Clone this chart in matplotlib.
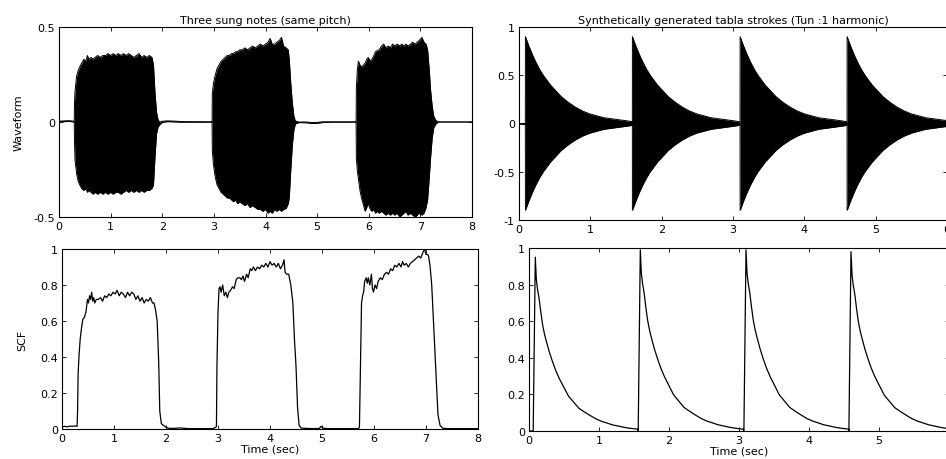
import numpy as np
import matplotlib
matplotlib.use("Agg")
import matplotlib.pyplot as plt

plt.rcParams['font.family'] = ['DejaVu Sans']
FS = 8

# ---------------- Data ----------------
# Top-left: envelope of three sung notes (time, upper, lower)
sung_t = [0.00, 0.10, 0.20, 0.295, 0.30, 0.31, 0.34, 0.37, 0.40, 0.44, 0.48, 0.52, 0.55, 0.58, 0.62,
          0.66, 0.70, 0.75, 0.80, 0.85, 0.90, 0.95, 1.00, 1.05, 1.10, 1.15, 1.20, 1.25, 1.30, 1.35,
          1.40, 1.45, 1.50, 1.55, 1.60, 1.65, 1.70, 1.75, 1.80, 1.83, 1.86, 1.89, 1.92, 1.95, 2.00,
          2.10, 2.20, 2.40, 2.96,
          2.965, 2.97, 2.99, 3.02, 3.06, 3.10, 3.14, 3.18, 3.22, 3.26, 3.30, 3.34, 3.38, 3.42, 3.46,
          3.50, 3.55, 3.60, 3.65, 3.70, 3.75, 3.80, 3.85, 3.90, 3.95, 4.00, 4.05, 4.09, 4.13, 4.18,
          4.22, 4.27, 4.31, 4.35, 4.40, 4.44, 4.46, 4.49, 4.52, 4.55, 4.58, 4.65, 4.80, 4.90, 5.00,
          5.10, 5.30, 5.755,
          5.76, 5.78, 5.80, 5.83, 5.86, 5.90, 5.93, 5.96, 5.99, 6.03, 6.06, 6.10, 6.13, 6.16, 6.20,
          6.25, 6.29, 6.33, 6.38, 6.42, 6.46, 6.50, 6.55, 6.60, 6.64, 6.68, 6.72, 6.76, 6.81, 6.85,
          6.90, 6.94, 6.98, 7.03, 7.07, 7.11, 7.14, 7.17, 7.20, 7.23, 7.26, 7.30, 7.35, 8.00]
sung_upper = [0.004, 0.006, 0.007, 0.004, 0.10, 0.16, 0.24, 0.27, 0.29, 0.31, 0.33, 0.32, 0.35, 0.33, 0.34,
              0.33, 0.34, 0.35, 0.34, 0.35, 0.35, 0.36, 0.35, 0.36, 0.35, 0.36, 0.35, 0.36, 0.35, 0.36,
              0.35, 0.34, 0.35, 0.36, 0.34, 0.35, 0.34, 0.35, 0.34, 0.30, 0.15, 0.05, 0.01, 0.0, 0.004,
              0.006, 0.005, 0.002, 0.001,
              0.0, 0.15, 0.20, 0.24, 0.28, 0.30, 0.32, 0.33, 0.34, 0.35, 0.35, 0.36, 0.36, 0.37, 0.37,
              0.38, 0.38, 0.39, 0.38, 0.39, 0.40, 0.39, 0.40, 0.41, 0.40, 0.41, 0.42, 0.44, 0.41, 0.41,
              0.42, 0.43, 0.445, 0.40, 0.39, 0.38, 0.33, 0.20, 0.10, 0.03, 0.005, 0.0, 0.0, -0.003, -0.002,
              0.001, 0.001, 0.001,
              0.18, 0.28, 0.32, 0.30, 0.29, 0.30, 0.31, 0.33, 0.34, 0.32, 0.33, 0.35, 0.37, 0.375, 0.38,
              0.40, 0.41, 0.39, 0.40, 0.39, 0.41, 0.40, 0.41, 0.40, 0.41, 0.40, 0.41, 0.40, 0.41, 0.42,
              0.41, 0.42, 0.43, 0.445, 0.42, 0.41, 0.38, 0.28, 0.16, 0.08, 0.03, 0.008, 0.0, 0.0]
sung_lower = [0.000, 0.002, 0.003, 0.000, -0.10, -0.20, -0.27, -0.31, -0.33, -0.35, -0.36, -0.35, -0.37, -0.36, -0.37,
              -0.38, -0.37, -0.38, -0.37, -0.38, -0.37, -0.38, -0.37, -0.38, -0.37, -0.37, -0.38, -0.37, -0.36, -0.37,
              -0.36, -0.37, -0.36, -0.37, -0.36, -0.37, -0.36, -0.36, -0.35, -0.33, -0.18, -0.06, -0.025, -0.015, -0.002,
              0.002, 0.001, -0.001, -0.001,
              -0.003, -0.15, -0.22, -0.28, -0.33, -0.35, -0.37, -0.38, -0.39, -0.40, -0.40, -0.41, -0.42, -0.41, -0.43,
              -0.42, -0.43, -0.44, -0.43, -0.45, -0.44, -0.45, -0.46, -0.46, -0.47, -0.46, -0.48, -0.47, -0.48, -0.46,
              -0.47, -0.46, -0.47, -0.46, -0.455, -0.43, -0.40, -0.25, -0.12, -0.04, -0.01, -0.003, -0.004, -0.008, -0.007,
              -0.003, -0.001, -0.001,
              -0.19, -0.26, -0.30, -0.36, -0.40, -0.44, -0.47, -0.45, -0.43, -0.46, -0.47, -0.46, -0.48, -0.47, -0.48,
              -0.47, -0.48, -0.49, -0.48, -0.49, -0.48, -0.49, -0.48, -0.50, -0.49, -0.48, -0.47, -0.49, -0.48, -0.49,
              -0.50, -0.49, -0.48, -0.49, -0.48, -0.45, -0.41, -0.30, -0.18, -0.08, -0.03, -0.01, 0.0, 0.0]

# Top-right: tabla strokes, decaying envelope after each onset
stroke_onsets = [0.09, 1.59, 3.10, 4.60]
tabla_env_offsets = [0.0, 0.05, 0.1, 0.15, 0.2, 0.25, 0.3, 0.35, 0.4, 0.45, 0.5, 0.6, 0.7, 0.8, 0.9,
                     1.0, 1.1, 1.2, 1.3, 1.4, 1.49]
tabla_env_values = [0.90, 0.80, 0.71, 0.63, 0.56, 0.50, 0.45, 0.40, 0.36, 0.32, 0.28, 0.22, 0.17, 0.13, 0.10,
                    0.08, 0.06, 0.05, 0.04, 0.03, 0.02]

# Bottom-left: SCF of sung notes
scf_sung_t = [0.00, 0.05, 0.10, 0.15, 0.20, 0.25, 0.29, 0.30, 0.31, 0.33, 0.35, 0.37, 0.40, 0.43, 0.46,
              0.49, 0.51, 0.53, 0.55, 0.57, 0.59, 0.61, 0.63, 0.66, 0.70, 0.74, 0.78, 0.82, 0.86, 0.90,
              0.94, 0.98, 1.02, 1.06, 1.10, 1.14, 1.18, 1.22, 1.26, 1.30, 1.34, 1.38, 1.42, 1.46, 1.50,
              1.54, 1.58, 1.62, 1.66, 1.70, 1.74, 1.77, 1.80, 1.83, 1.86, 1.88, 1.91, 1.95, 2.00, 2.05,
              2.15, 2.25, 2.35, 2.45, 2.60, 2.75, 2.90, 2.96, 2.97, 2.98, 3.00, 3.02, 3.04, 3.06, 3.09,
              3.12, 3.15, 3.18, 3.21, 3.24, 3.28, 3.31, 3.35, 3.38, 3.42, 3.45, 3.48, 3.51, 3.55, 3.58,
              3.62, 3.65, 3.68, 3.72, 3.76, 3.80, 3.84, 3.88, 3.92, 3.96, 4.00, 4.04, 4.08, 4.12, 4.16,
              4.20, 4.24, 4.27, 4.29, 4.32, 4.36, 4.40, 4.44, 4.47, 4.50, 4.53, 4.56, 4.60, 4.80, 4.95,
              4.98, 5.02, 5.10, 5.40, 5.70, 5.72, 5.74, 5.76, 5.78, 5.80, 5.82, 5.85, 5.87, 5.89, 5.92,
              5.95, 5.97, 5.99, 6.02, 6.05, 6.08, 6.12, 6.16, 6.20, 6.24, 6.28, 6.32, 6.36, 6.40, 6.44,
              6.48, 6.52, 6.55, 6.58, 6.62, 6.66, 6.70, 6.74, 6.78, 6.82, 6.86, 6.90, 6.94, 6.97, 7.00,
              7.03, 7.05, 7.08, 7.11, 7.14, 7.17, 7.20, 7.23, 7.27, 7.32, 7.40, 8.00]
scf_sung_v = [0.010, 0.015, 0.012, 0.016, 0.015, 0.017, 0.015, 0.10, 0.31, 0.42, 0.50, 0.55, 0.61, 0.62, 0.65,
              0.72, 0.70, 0.74, 0.72, 0.76, 0.71, 0.73, 0.70, 0.72, 0.72, 0.73, 0.71, 0.74, 0.73, 0.75,
              0.74, 0.76, 0.75, 0.77, 0.74, 0.76, 0.75, 0.73, 0.76, 0.74, 0.76, 0.75, 0.72, 0.74, 0.71,
              0.73, 0.70, 0.72, 0.71, 0.73, 0.70, 0.70, 0.66, 0.60, 0.37, 0.10, 0.03, 0.02, 0.01, 0.004,
              0.003, 0.006, 0.004, 0.002, 0.002, 0.002, 0.002, 0.010, 0.015, 0.35, 0.65, 0.78, 0.79, 0.76, 0.80,
              0.74, 0.76, 0.73, 0.76, 0.77, 0.79, 0.78, 0.83, 0.84, 0.84, 0.83, 0.85, 0.82, 0.86, 0.84,
              0.89, 0.88, 0.90, 0.88, 0.90, 0.89, 0.91, 0.90, 0.92, 0.90, 0.93, 0.91, 0.92, 0.90, 0.92,
              0.89, 0.91, 0.94, 0.87, 0.86, 0.86, 0.80, 0.70, 0.50, 0.35, 0.12, 0.02, 0.005, 0.002, 0.003,
              0.015, 0.005, 0.002, 0.002, 0.002, 0.01, 0.35, 0.70, 0.74, 0.76, 0.82, 0.84, 0.81, 0.84, 0.80,
              0.86, 0.78, 0.76, 0.80, 0.78, 0.82, 0.84, 0.83, 0.86, 0.87, 0.86, 0.89, 0.88, 0.91, 0.90,
              0.92, 0.90, 0.93, 0.91, 0.92, 0.90, 0.92, 0.93, 0.94, 0.95, 0.96, 0.95, 0.98, 1.00, 0.97,
              0.97, 0.96, 0.90, 0.80, 0.62, 0.45, 0.25, 0.08, 0.02, 0.005, 0.002, 0.002]

# Bottom-right: SCF of tabla strokes (rise then decay after each onset)
scf_tabla_peaks = [0.95, 0.99, 0.99, 0.98]
scf_decay_offsets = [-0.03, 0.0, 0.015, 0.03, 0.055, 0.08, 0.105, 0.13, 0.155, 0.20, 0.245, 0.29, 0.345,
                     0.41, 0.475, 0.55, 0.625, 0.70, 0.78, 0.865, 0.95, 1.03, 1.105, 1.20, 1.27, 1.345,
                     1.41, 1.47]
scf_decay_values = [0.00, 1.00, 0.87, 0.82, 0.76, 0.68, 0.61, 0.56, 0.52, 0.455, 0.40, 0.35, 0.30,
                    0.25, 0.20, 0.165, 0.13, 0.11, 0.09, 0.07, 0.055, 0.045, 0.035, 0.027, 0.021, 0.016,
                    0.013, 0.01]

# ---------------- Figure ----------------
W, H = 946, 460
fig = plt.figure(figsize=(W / 100, H / 100), dpi=100)


def px_axes(x0, y0, x1, y1):
    return fig.add_axes([x0 / W, 1 - y1 / H, (x1 - x0) / W, (y1 - y0) / H])


def style(ax):
    ax.tick_params(direction='in', length=3, width=0.6, top=True, right=True,
                   labelsize=FS, pad=3)
    for s in ax.spines.values():
        s.set_linewidth(0.8)


# Top-left
ax1 = px_axes(59, 28, 472, 218)
t = np.array(sung_t)
ax1.fill_between(t, sung_lower, sung_upper, color='black', linewidth=0)
ax1.plot(t, sung_upper, color='black', lw=0.7)
ax1.plot(t, sung_lower, color='black', lw=0.7)
ax1.set_xlim(0, 8)
ax1.set_ylim(-0.5, 0.5)
ax1.set_xticks(range(0, 9))
ax1.set_yticks([-0.5, 0, 0.5])
ax1.set_yticklabels(['-0.5', '0', '0.5'])
ax1.set_title('Three sung notes (same pitch)', fontsize=FS, pad=3)
ax1.set_ylabel('Waveform', fontsize=FS, labelpad=7)
style(ax1)

# Top-right
ax2 = px_axes(519, 28, 947, 221)
seg_t = []
seg_up = []
seg_lo = []
seg_t.append(0.0); seg_up.append(0.0); seg_lo.append(0.0)
for i, on in enumerate(stroke_onsets):
    seg_t.append(on - 0.001); seg_up.append(0.0); seg_lo.append(0.0)
    for off, val in zip(tabla_env_offsets, tabla_env_values):
        seg_t.append(on + off); seg_up.append(val); seg_lo.append(-val)
seg_t.append(6.0); seg_up.append(tabla_env_values[-1]); seg_lo.append(-tabla_env_values[-1])
seg_t = np.array(seg_t)
ax2.fill_between(seg_t, seg_lo, seg_up, color='black', linewidth=0)
ax2.plot(seg_t, seg_up, color='black', lw=0.7)
ax2.plot(seg_t, seg_lo, color='black', lw=0.7)
ax2.axhline(0, color='black', lw=0.8, xmin=0.01)
ax2.set_xlim(0, 6)
ax2.set_ylim(-1, 1)
ax2.set_xticks(range(0, 7))
ax2.set_yticks([-1, -0.5, 0, 0.5, 1])
ax2.set_yticklabels(['-1', '-0.5', '0', '0.5', '1'])
ax2.set_title('Synthetically generated tabla strokes (Tun :1 harmonic)', fontsize=FS, pad=3)
style(ax2)

# Bottom-left
ax3 = px_axes(62, 250, 478, 430)
ax3.plot(scf_sung_t, scf_sung_v, color='black', lw=0.9)
ax3.set_xlim(0, 8)
ax3.set_ylim(0, 1)
ax3.set_xticks(range(0, 9))
ax3.set_yticks([0, 0.2, 0.4, 0.6, 0.8, 1])
ax3.set_yticklabels(['0', '0.2', '0.4', '0.6', '0.8', '1'])
ax3.set_xlabel('Time (sec)', fontsize=FS, labelpad=0)
ax3.set_ylabel('SCF', fontsize=FS, labelpad=9)
style(ax3)

# Bottom-right
ax4 = px_axes(529, 249, 949, 432)
st, sv = [0.0], [0.0]
for on, pk in zip(stroke_onsets, scf_tabla_peaks):
    for off, val in zip(scf_decay_offsets, scf_decay_values):
        st.append(on + off)
        sv.append(val * pk if off >= 0 else val)
st.append(6.0); sv.append(scf_decay_values[-1])
ax4.plot(st, sv, color='black', lw=0.9)
ax4.set_xlim(0, 6)
ax4.set_ylim(0, 1)
ax4.set_xticks(range(0, 7))
ax4.set_yticks([0, 0.2, 0.4, 0.6, 0.8, 1])
ax4.set_yticklabels(['0', '0.2', '0.4', '0.6', '0.8', '1'])
ax4.set_xlabel('Time (sec)', fontsize=FS, labelpad=0)
style(ax4)

fig.savefig('out.png', dpi=100)
